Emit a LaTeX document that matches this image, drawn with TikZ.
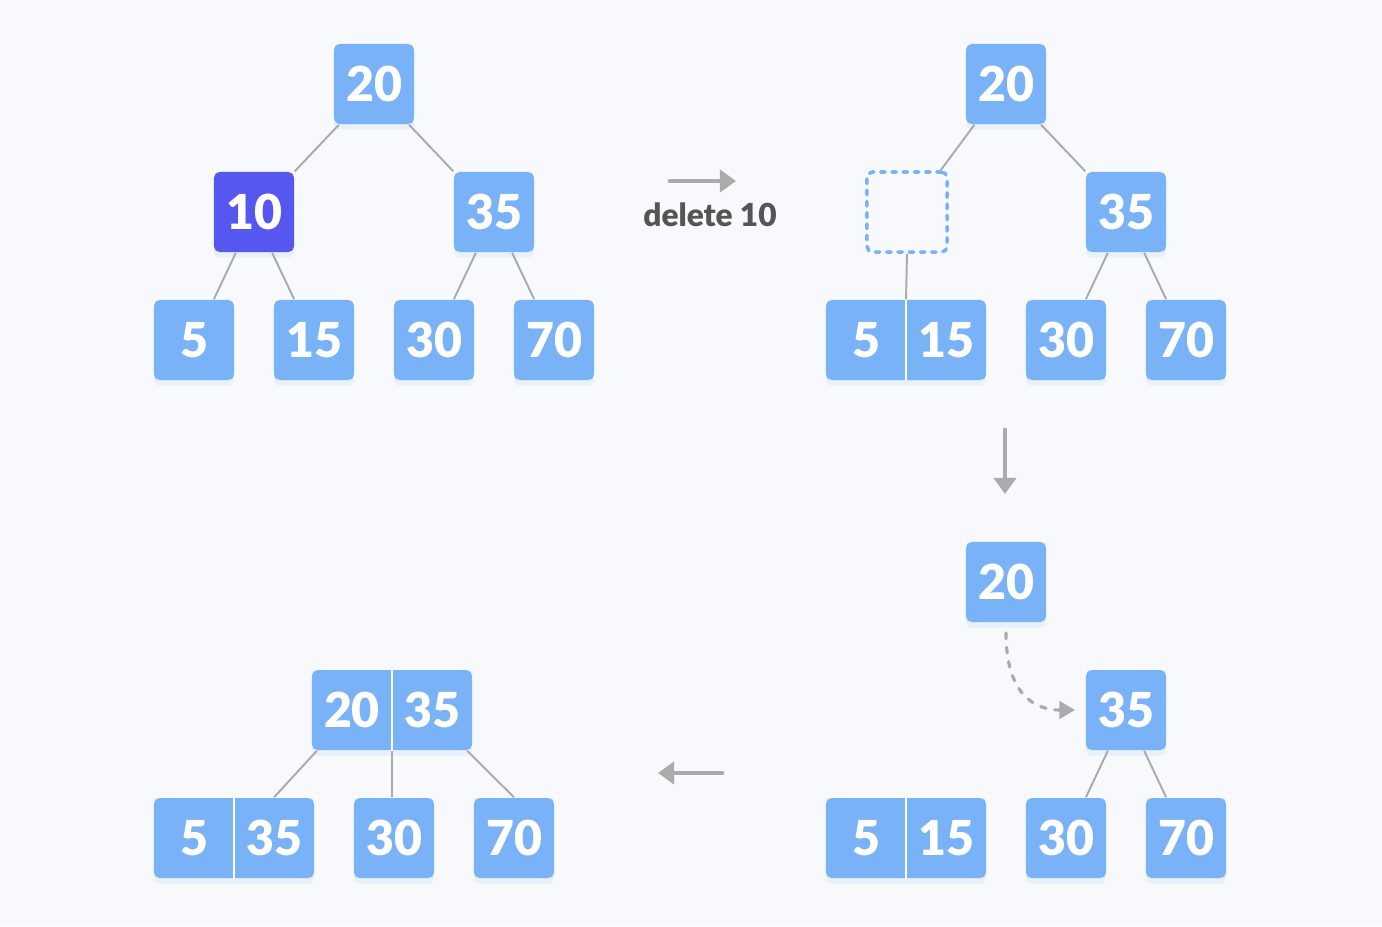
\documentclass[tikz,border=0pt]{standalone}
\usepackage{fontspec}
\setmainfont{Lato}[BoldFont={Lato Black}]
\usetikzlibrary{arrows.meta,shadows}

\definecolor{pagebg}{HTML}{F7F9FC}
\definecolor{keyblue}{HTML}{79B2F6}
\definecolor{delblue}{HTML}{5557EF}
\definecolor{linkgray}{HTML}{ABABAB}
\definecolor{labelgray}{HTML}{555555}

\newcommand{\keyfont}{\fontsize{13.7}{14}\selectfont\bfseries}

\tikzset{
	key/.style={rectangle,rounded corners=1.6pt,fill=keyblue,minimum size=0.8cm,inner sep=0pt,
		text=white,font=\keyfont,drop shadow={shadow xshift=0pt,shadow yshift=-1.6pt,fill=keyblue,opacity=0.12}},
	pairkey/.style={key,minimum width=1.6cm},
	keytext/.style={inner sep=0pt,text=white,font=\keyfont},
	hole/.style={rectangle,rounded corners=1.6pt,minimum size=0.8cm,inner sep=0pt,draw=keyblue,
		line width=1pt,line cap=round,dash pattern=on 1.3pt off 1.9pt},
	link/.style={linkgray,line width=0.55pt},
	step arrow/.style={linkgray,line width=1.4pt,line cap=round,-{Triangle[length=4.6pt,width=6.3pt]}},
	move arrow/.style={linkgray,line width=0.9pt,line cap=round,dash pattern=on 1.6pt off 2.5pt,
		-{Triangle[length=4.5pt,width=5pt]}}
}

% #1: optional style, #2: name, #3: position, #4: key
\newcommand{\keynode}[4][key]{\node[#1] (#2) at (#3) {#4};}
% #1: name, #2: position, #3: left key, #4: right key
\newcommand{\pairnode}[4]{%
	\node[pairkey] (#1) at (#2) {};
	\node[keytext] (#1-l) at ([xshift=-0.4cm]#1.center) {#3};
	\node[keytext] (#1-r) at ([xshift=0.4cm]#1.center) {#4};
	\draw[white,line width=0.6pt] (#1.north) -- (#1.south);
}

\begin{document}
\begin{tikzpicture}[x=0.01cm,y=-0.01cm]
					% Background
					\fill[pagebg] (0,0) rectangle (1382,926);
					
					% First tree: the key 10 is marked
					\keynode{a20}{374,84}{20}
					\keynode[key,fill=delblue]{a10}{254,212}{10}
					\keynode{a35}{494,212}{35}
					\keynode{a5}{194,340}{5}
					\keynode{a15}{314,340}{15}
					\keynode{a30}{434,340}{30}
					\keynode{a70}{554,340}{70}
					\draw[link] ([xshift=1.6pt]a20.south west) -- (a10.north east);
					\draw[link] ([xshift=-1.6pt]a20.south east) -- (a35.north west);
					\draw[link] (a10.246) -- (a5.64);
					\draw[link] (a10.294) -- (a15.116);
					\draw[link] (a35.246) -- (a30.64);
					\draw[link] (a35.294) -- (a70.116);
					
					% Step: delete 10
					\coordinate (s1a) at (670,181);
					\coordinate (s1b) at (736,181);
					\draw[step arrow] (s1a) -- (s1b);
					\node[text=labelgray,font=\fontsize{9}{10}\selectfont\bfseries] (s1text) at (710,215) {delete 10};
					
					% Second tree: 5 and 15 are merged
					\keynode{b20}{1006,84}{20}
					\keynode[hole]{bhole}{907,212}{}
					\keynode{b35}{1126,212}{35}
					\pairnode{b515}{906,340}{5}{15}
					\keynode{b30}{1066,340}{30}
					\keynode{b70}{1186,340}{70}
					\draw[link] ([xshift=2.6pt]b20.south west) -- ([xshift=-2.3pt]bhole.north east);
					\draw[link] ([xshift=-1.6pt]b20.south east) -- (b35.north west);
					\draw[link] (bhole.south) -- (b515.north);
					\draw[link] (b35.246) -- (b30.64);
					\draw[link] (b35.294) -- (b70.116);
					
					% Step down
					\coordinate (s2a) at (1005,430);
					\coordinate (s2b) at (1005,494);
					\draw[step arrow] (s2a) -- (s2b);
					
					% Third picture: 20 goes down to 35
					\keynode{c20}{1006,582}{20}
					\keynode{c35}{1126,710}{35}
					\pairnode{c515}{906,838}{5}{15}
					\keynode{c30}{1066,838}{30}
					\keynode{c70}{1186,838}{70}
					\draw[link] (c35.246) -- (c30.64);
					\draw[link] (c35.294) -- (c70.116);
					\draw[move arrow] ([yshift=-2.9pt]c20.south) .. controls +(0,62) and +(-40,0) .. ([xshift=-2.9pt]c35.west);
					
					% Step left
					\coordinate (s3a) at (722,773);
					\coordinate (s3b) at (658,773);
					\draw[step arrow] (s3a) -- (s3b);
					
					% Last tree
					\pairnode{d2035}{392,710}{20}{35}
					\pairnode{d535}{234,838}{5}{35}
					\keynode{d30}{394,838}{30}
					\keynode{d70}{514,838}{70}
					\draw[link] ([xshift=1.6pt]d2035.south west) -- (d535-r.north |- d535.north);
					\draw[link] (d2035.south) -- (d2035.south |- d30.north);
					\draw[link] ([xshift=-1.6pt]d2035.south east) -- (d70.north);
				\end{tikzpicture}
\end{document}
